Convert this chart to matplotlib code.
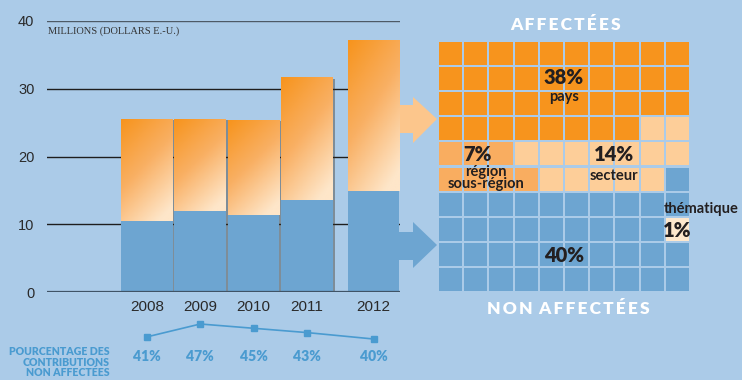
import numpy as np
import matplotlib
matplotlib.use('Agg')
import matplotlib.pyplot as plt
from matplotlib.colors import LinearSegmentedColormap
from matplotlib.patches import Polygon, Rectangle

# contributions, millions of US dollars
years = ['2008', '2009', '2010', '2011', '2012']
totals = [25.5, 25.5, 25.4, 31.6, 37.1]
non_earmarked_pct = [41, 47, 45, 43, 40]

# 10x10 breakdown of the latest year, one letter per percent
waffle_rows = [
    'PPPPPPPPPP',
    'PPPPPPPPPP',
    'PPPPPPPPPP',
    'PPPPPPPPSS',
    'RRRSSSSSSS',
    'RRRRSSSSSN',
    'NNNNNNNNNN',
    'NNNNNNNNNT',
    'NNNNNNNNNN',
    'NNNNNNNNNN',
]
waffle_keys = ['P', 'R', 'S', 'T', 'N']
waffle_names = ['pays', 'région\nsous-région', 'secteur', 'thématique', '']

BG = '#abcbe8'
BLUE = '#6da5d1'
ORANGE = '#f7941d'
TXT_BLUE = '#4a9bd0'
waffle_colors = [ORANGE, '#f9ad60', '#fdce99', '#fde7cc', BLUE]

W, H = 742, 380
fig = plt.figure(figsize=(W / 100, H / 100), dpi=100, facecolor=BG)


def frac(x0, y0, x1, y1):
    # pixel box (top-left origin) -> figure fraction rect
    return [x0 / W, (H - y1) / H, (x1 - x0) / W, (y1 - y0) / H]


plain = ['Liberation Sans', 'DejaVu Sans']
heavy = ['Lato', 'DejaVu Sans']

# ---- stacked bars ----
ax = fig.add_axes(frac(47, 21, 400, 292))
ax.set_facecolor('none')
xpos = [0, 1, 2, 3, 4.25]
bw = 0.97
blue_part = [t * p / 100 for t, p in zip(totals, non_earmarked_pct)]

grad = LinearSegmentedColormap.from_list('grad', [ORANGE, '#f9b064', '#fee6c9'])
yy, xx = np.mgrid[0:1:80j, 0:1:40j]
shade = grad(np.clip(0.72 * yy + 0.38 * xx, 0, 1))

for v in (10, 20, 30):
    ax.axhline(v, color='#1e1e1e', lw=1.0, zorder=1)
ax.axhline(40, color='#4d5a66', lw=1.0, zorder=1)

for i, (x, tot, b) in enumerate(zip(xpos, totals, blue_part)):
    x0 = x - bw / 2
    if i < 4:
        ax.add_patch(Rectangle((x0 + 0.05, 0), bw, tot - 0.15, color='#3b3020',
                               alpha=0.4, lw=0, zorder=2))
    ax.bar(x, b, width=bw, color=BLUE, zorder=3)
    ax.imshow(shade, extent=(x0, x0 + bw, b, tot), aspect='auto',
              origin='upper', zorder=3)

ax.axhline(0, color='#3f5366', lw=1.6, zorder=4)
ax.set_xlim(-1.876, 4.747)
ax.set_ylim(0, 40)
ax.set_yticks([0, 10, 20, 30, 40])
ax.set_xticks(xpos, years)
ax.tick_params(length=0, colors='#2a2a2a')
ax.tick_params(axis='y', pad=9, labelsize=10.5)
ax.tick_params(axis='x', pad=6, labelsize=11)
for lab in ax.get_xticklabels() + ax.get_yticklabels():
    lab.set_family(plain)
for s in ax.spines.values():
    s.set_visible(False)
ax.text(0.003, 38.5, 'MILLIONS (DOLLARS E.-U.)', transform=ax.get_yaxis_transform(),
        family='Liberation Serif', fontsize=7.5, color='#333333', va='center')

# ---- share of non-earmarked contributions ----
lx = fig.add_axes(frac(47, 318, 400, 345), sharex=ax)
lx.axis('off')
lx.plot(xpos, non_earmarked_pct, color=TXT_BLUE, lw=1.2, marker='s', ms=5)
lx.set_ylim(37.2, 49.8)
for x, p in zip(xpos, non_earmarked_pct):
    lx.text(x, -0.44, f'{p}%', transform=lx.get_xaxis_transform(), ha='center',
            va='center', color=TXT_BLUE, fontsize=10, weight='heavy', family=heavy)
fig.text(110 / W, 1 - 362 / H, 'POURCENTAGE DES\nCONTRIBUTIONS\nNON AFFECTÉES',
         ha='right', va='center', color=TXT_BLUE, fontsize=7.6, weight='heavy',
         family=heavy, linespacing=0.95)

# ---- waffle ----
wx = fig.add_axes(frac(438, 41, 690, 292))
gap = 0.04
for r, row in enumerate(waffle_rows):
    for c, key in enumerate(row):
        wx.add_patch(Rectangle((c + gap, r + gap), 1 - 2 * gap, 1 - 2 * gap, lw=0,
                               color=waffle_colors[waffle_keys.index(key)]))
wx.set_xlim(0, 10)
wx.set_ylim(10, 0)
wx.axis('off')

counts = {k: sum(row.count(k) for row in waffle_rows) for k in waffle_keys}
dark = '#231f20'
big = dict(ha='center', va='center', color=dark, fontsize=14.5, weight='heavy',
           family=heavy, clip_on=False)
small = dict(ha='center', va='center', color=dark, fontsize=10.5, weight='bold',
             family=heavy, clip_on=False, linespacing=0.9)
wx.text(5.0, 1.47, f"{counts['P']}%", **big)
wx.text(5.0, 2.23, waffle_names[0], **small)
wx.text(1.55, 4.54, f"{counts['R']}%", **big)
wx.text(1.9, 5.46, waffle_names[1], **small)
wx.text(7.0, 4.54, f"{counts['S']}%", **big)
wx.text(7.0, 5.38, waffle_names[2], **small)
wx.text(10.45, 6.7, waffle_names[3], **small)
wx.text(9.5, 7.53, f"{counts['T']}%", **big)
wx.text(5.0, 8.56, f"{counts['N']}%", **big)

spaced = '\u2009'.join
wx.text(5.05, -0.64, spaced('AFFECTÉES'), ha='center', va='center', color='white',
        fontsize=12.5, weight='heavy', family=heavy, clip_on=False)
wx.text(5.16, 10.66, spaced('NON') + '\u2009\u2009\u2009' + spaced('AFFECTÉES'),
        ha='center', va='center', color='white', fontsize=12.5, weight='heavy',
        family=heavy, clip_on=False)

# ---- arrows between bars and waffle ----
ov = fig.add_axes([0, 0, 1, 1], zorder=-1)
ov.set_xlim(0, W)
ov.set_ylim(H, 0)
ov.axis('off')
for (yb0, yb1, yh0, yh1, ytip), col in [((105, 133, 97, 143, 119), '#fcc68c'),
                                        ((232, 260, 222, 268, 245), BLUE)]:
    ov.add_patch(Polygon([(399, yb0), (413, yb0), (413, yh0), (437, ytip),
                          (413, yh1), (413, yb1), (399, yb1)], color=col, lw=0))

fig.savefig('out.png', dpi=100, facecolor=BG)
